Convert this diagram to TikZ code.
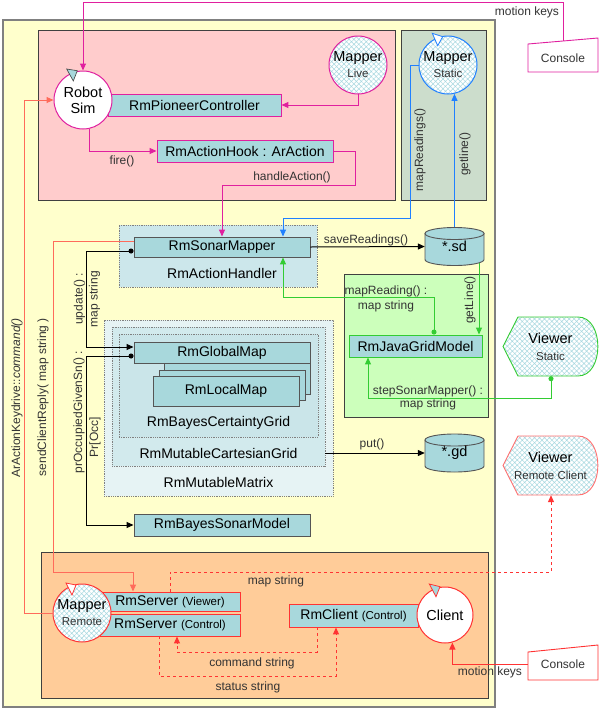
\documentclass[tikz,border=0pt]{standalone}
\usepackage{fontspec}
\setmainfont{Liberation Sans}
\usetikzlibrary{arrows.meta,patterns.meta,calc}
\definecolor{yel}{HTML}{FFFFCC}
\definecolor{pinkbg}{HTML}{FFCCCC}
\definecolor{sage}{HTML}{CCDDCC}
\definecolor{teal1}{HTML}{A8D8DC}
\definecolor{ahbg}{HTML}{CCE7EB}
\definecolor{mmbg}{HTML}{E6F3F4}
\definecolor{mcbg}{HTML}{D2EAED}
\definecolor{bcbg}{HTML}{CAE5E9}
\definecolor{jgbg}{HTML}{CCFFBB}
\definecolor{orbg}{HTML}{FFCC99}
\definecolor{mag}{HTML}{E0209F}
\definecolor{blu}{HTML}{2080FF}
\definecolor{grn}{HTML}{33CC33}
\definecolor{rd}{HTML}{FF3333}
\definecolor{salmon}{HTML}{FF6B5B}
\definecolor{frame}{HTML}{404040}
\definecolor{dkb}{HTML}{555555}
\definecolor{lbl}{HTML}{333333}
\definecolor{hatchc}{HTML}{A8D8E0}
\newcommand{\smallf}{\fontsize{11.5}{13}\selectfont}
\newcommand{\dbcyl}[2]{%
  \filldraw[fill=teal1, draw=dkb, line width=0.9pt] (#1-29.5,#2-13) -- (#1-29.5,#2+13) arc[start angle=180,end angle=0,x radius=29.5,y radius=6] -- (#1+29.5,#2-13) -- cycle;
  \filldraw[fill=teal1, draw=dkb, line width=0.9pt] (#1,#2-13) ellipse [x radius=29.5, y radius=6];}
\newcommand{\viewshape}[3]{%
  \draw[#3, line width=0.9pt, hatchfill] (#1-47.5,#2) -- (#1-32.5,#2-29.5) -- (#1+27.5,#2-29.5) .. controls (#1+54,#2-29.5) and (#1+54,#2+29.5) .. (#1+27.5,#2+29.5) -- (#1-32.5,#2+29.5) -- cycle;}
\tikzset{
  hatchfill/.style={preaction={fill=white}, pattern={Hatch[angle=45,distance=3.5pt,line width=0.5pt]}, pattern color=hatchc},
  cont/.style={draw=frame, line width=0.8pt, inner sep=0pt},
  dotc/.style={draw=gray, densely dotted, line width=0.8pt, inner sep=0pt},
  cbox/.style={draw=#1, fill=teal1, line width=0.9pt, inner sep=0pt, font=\fontsize{14}{16}\selectfont},
  cbox/.default=dkb,
  ctext/.style={font=\fontsize{14}{16}\selectfont, inner sep=0pt},
  circ/.style={circle, draw=#1, line width=1pt, minimum size=58pt, inner sep=0pt, align=center, font=\fontsize{14.5}{16}\selectfont},
  lab/.style={text=lbl, font=\fontsize{12}{15}\selectfont, inner sep=1pt},
  conn/.style={line width=1pt, -{Triangle[length=7pt,width=6pt]}},
  dconn/.style={line width=1pt, {Circle[length=5pt]}-{Triangle[length=7pt,width=6pt]}},
}
\begin{document}
\begin{tikzpicture}[x=1pt,y=-1pt]
\useasboundingbox (0,0) rectangle (600,710);
\fill[white] (0,0) rectangle (600,710);
% containers
\node[cont, fill=yel, draw=gray, line width=1.2pt, minimum width=492pt, minimum height=687pt] (frameY) at (249,363.5) {};
\node[cont, fill=pinkbg, minimum width=357pt, minimum height=170pt] (pinkB) at (216.5,115) {};
\node[cont, fill=sage, minimum width=85pt, minimum height=170pt] (sageB) at (443.5,115) {};
\node[dotc, fill=ahbg, minimum width=198pt, minimum height=62pt] (ahB) at (218,256) {};
\node[dotc, fill=mmbg, minimum width=229pt, minimum height=176pt] (mmB) at (218.5,408) {};
\node[dotc, fill=mcbg, minimum width=213pt, minimum height=139pt] (mcB) at (218.5,396.5) {};
\node[dotc, fill=bcbg, minimum width=199pt, minimum height=103pt] (bcB) at (218.5,385.5) {};
\node[cont, fill=jgbg, minimum width=144pt, minimum height=143pt] (jgB) at (416,345.5) {};
\node[cont, fill=orbg, minimum width=447pt, minimum height=146pt] (orB) at (264.5,625) {};
\node[ctext] (tAH) at (222,273) {RmActionHandler};
\node[ctext] (tBC) at (218.5,423) {RmBayesCertaintyGrid};
\node[ctext] (tMC) at (218.5,453) {RmMutableCartesianGrid};
\node[ctext] (tMM) at (218.5,482) {RmMutableMatrix};
% boxes
\node[cbox=mag, minimum width=173pt, minimum height=22pt] (pioneer) at (194.5,105) {RmPioneerController};
\node[cbox=mag, minimum width=176pt, minimum height=22pt] (hook) at (245,151) {RmActionHook : ArAction};
\node[cbox, minimum width=176pt, minimum height=20pt] (sonar) at (222,247) {RmSonarMapper};
\filldraw[fill=teal1, draw=dkb, line width=0.9pt] (164,352) rectangle (310,394);
\node[cbox, minimum width=176pt, minimum height=21pt] (global) at (222,352.5) {RmGlobalMap};
\filldraw[fill=teal1, draw=dkb, line width=0.9pt] (159,370) rectangle (305,400);
\node[cbox, minimum width=146pt, minimum height=30pt] (local) at (226,391) {RmLocalMap};
\node[cbox, minimum width=176pt, minimum height=22pt] (bsm) at (222,525) {RmBayesSonarModel};
\node[cbox=grn, minimum width=133pt, minimum height=22pt] (javagrid) at (415.5,346) {RmJavaGridModel};
\node[cbox=rd, minimum width=140pt, minimum height=19pt] (serverV) at (170,601.5) {RmServer {\smallf (Viewer)}};
\node[cbox=rd, minimum width=140pt, minimum height=22pt] (serverC) at (170,625) {RmServer {\smallf (Control)}};
\node[cbox=rd, minimum width=129pt, minimum height=23pt] (clientbox) at (353.5,615.5) {RmClient {\smallf (Control)}};
% circles
\node[circ=mag, fill=white] (robotsim) at (83,100) {Robot\\Sim};
\node[circ=mag, hatchfill] (mapperlive) at (358,65) {Mapper\\{\smallf\color{lbl} Live}};
\node[circ=blu, hatchfill] (mapperstatic) at (448,65) {Mapper\\{\smallf\color{lbl} Static}};
\node[circ=rd, hatchfill] (mapperremote) at (82,613) {Mapper\\{\smallf\color{lbl} Remote}};
\node[circ=rd, fill=white, minimum size=56pt] (clientc) at (445,615) {Client};
% active markers
\filldraw[fill=teal1, draw=frame, line width=0.6pt] (66.7,69) -- (77.3,70.7) -- (73.3,81) -- cycle;
\filldraw[fill=white, draw=blu, line width=0.8pt] (432.3,33.3) -- (442.7,36.7) -- (437.7,45.7) -- cycle;
\filldraw[fill=white, draw=rd, line width=0.8pt] (66,583) -- (76,585) -- (72,595) -- cycle;
\filldraw[fill=teal1, draw=rd, line width=0.8pt] (429.3,584) -- (440,586.7) -- (436,596.7) -- cycle;
% cylinders
\dbcyl{454.5}{246.5}
\node[minimum width=59pt, minimum height=38pt, inner sep=0pt, font=\fontsize{14.5}{16}\selectfont] (sd) at (454.5,246.5) {\raisebox{-3pt}{*.sd}};
\dbcyl{454.5}{453}
\node[minimum width=59pt, minimum height=38pt, inner sep=0pt, font=\fontsize{14.5}{16}\selectfont] (gd) at (454.5,453) {\raisebox{-3pt}{*.gd}};
% viewers
\viewshape{550.5}{346.5}{draw=grn}
\node[minimum width=95pt, minimum height=59pt, inner sep=0pt, align=center, font=\fontsize{14.5}{17}\selectfont] (viewerS) at (550.5,346.5) {Viewer\\{\smallf\color{lbl} Static}};
\viewshape{550.5}{465.5}{draw=rd!70}
\node[minimum width=95pt, minimum height=59pt, inner sep=0pt, align=center, font=\fontsize{14.5}{17}\selectfont] (viewerR) at (550.5,465.5) {Viewer\\{\smallf\color{lbl} Remote Client}};
% consoles
\filldraw[draw=mag, fill=white, line width=0.9pt] (528,44) -- (598,38) -- (598,72) -- (528,72) -- cycle;
\node[minimum width=70pt, minimum height=28pt, inner sep=0pt, lab] (consoleT) at (563,58) {Console};
\filldraw[draw=rd, fill=white, line width=0.9pt] (528,652) -- (598,645) -- (598,680) -- (528,680) -- cycle;
\node[minimum width=70pt, minimum height=30pt, inner sep=0pt, lab] (consoleB) at (563,664) {Console};
% connectors
\draw[conn, mag] ([yshift=3pt]consoleT.north) -- ++(0,-38) -| (robotsim.north);
\node[lab] (lMK1) at (527,12) {motion keys};
\draw[conn, mag] (mapperlive.south) |- (pioneer.east);
\draw[conn, mag] (robotsim.-78) |- (hook.west);
\node[lab] (lfire) at (122,161) {fire()};
\coordinate (ha) at (355,185);
\draw[conn, mag] (hook.east) -| (ha) -| (sonar.north);
\node[lab] (lHA) at (292,177) {handleAction()};
\coordinate (mr) at (410,218);
\draw[conn, blu] (mapperstatic.west) -| (mr) -| ([xshift=61pt]sonar.north);
\node[lab, rotate=90] (lMR) at (420,150) {mapReadings()};
\draw[conn, blu] (sd.north) -- (sd.north |- mapperstatic.-78);
\node[lab, rotate=90] (lGL) at (465,154) {getline()};
\draw[conn, black] (sonar.east) -- (sd.west);
\node[lab] (lSR) at (366,240) {saveReadings()};
\draw[conn, grn] ([xshift=24.5pt,yshift=3pt]sd.south) -- ([xshift=24.5pt]sd.south |- javagrid.north);
\node[lab, rotate=90] (lGL2) at (470,300) {getLine()};
\draw[dconn, grn] ([xshift=18.5pt]javagrid.north) -- ++(0,-37) -| ([xshift=61pt]sonar.south);
\node[lab, align=center] (lMRd) at (386,298.5) {mapReading() :\\map string};
\draw[dconn, grn] ([xshift=0.5pt]viewerS.south) -- ++(0,22) -| ([xshift=-47.5pt]javagrid.south);
\node[lab, align=center, font=\fontsize{12}{13}\selectfont] (lSS) at (428,398) {stepSonarMapper() :\\map string};
\draw[dconn, black] ([yshift=-4pt]sonar.west) -- ++(-47,0) |- ([yshift=5.5pt]global.west);
\node[lab, rotate=90, align=center] (lUP) at (87,299) {update() :\\map string};
\draw[dconn, black] ([yshift=-3.5pt]global.west) -- ++(-47,0) |- (bsm.west);
\node[lab, rotate=90] (lPO) at (79,412) {prOccupiedGivenSn() :};
\node[lab, rotate=90] (lPO2) at (95,437) {Pr[Occ]};
\draw[conn, black] ([yshift=-56.5pt]mcB.east) -- (gd.west);
\node[lab] (lput) at (372,444) {put()};
\coordinate (sc) at (53,572);
\draw[conn, salmon] ([yshift=6pt]sonar.west) -| (sc) -| ([xshift=-37pt]serverV.north);
\node[lab, rotate=90] (lSC) at (43,397) {sendClientReply( map string )};
\draw[conn, salmon] (mapperremote.west) -- ++(-28,0) |- (robotsim.west);
\node[lab, rotate=90] (lAK) at (17,398) {ArActionKeydrive::\textit{command()}};
\coordinate (ms) at (551,572);
\draw[conn, rd, dashed] (serverV.north) |- (ms) -- ([xshift=0.5pt]viewerR.south);
\node[lab] (lMS) at (276,581) {map string};
\draw[conn, rd, dashed] ([xshift=-36.5pt]clientbox.south) -- ++(0,25) -| ([xshift=7pt]serverC.south);
\node[lab] (lCS) at (252,663) {command string};
\draw[conn, rd, dashed] ([xshift=-11pt]serverC.south) -- ++(0,40) -| ([xshift=-17.5pt]clientbox.south);
\node[lab] (lST) at (248,687) {status string};
\draw[conn, rd] (consoleB.west) -| (clientc.-75.5);
\node[lab] (lMK2) at (490,672) {motion keys};
\end{tikzpicture}
\end{document}
